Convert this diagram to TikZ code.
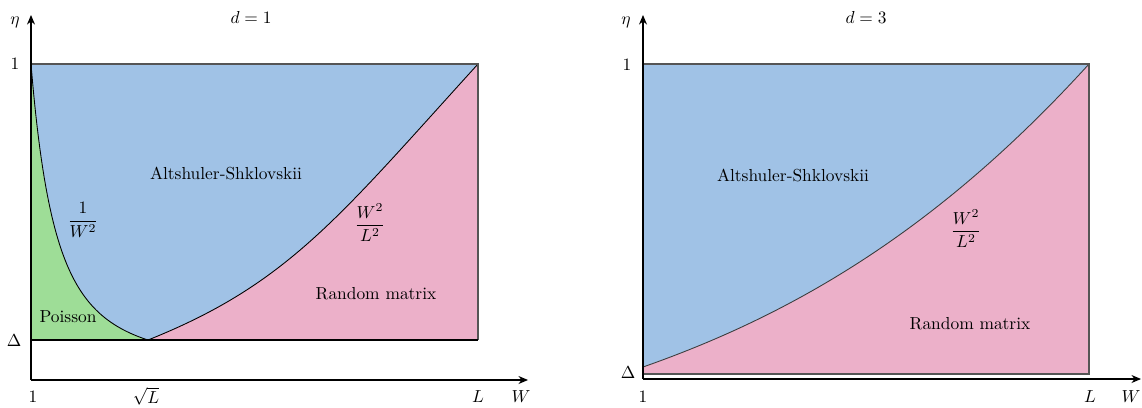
\documentclass[tikz,border=0pt]{standalone}
\usepackage{amsmath}
\usetikzlibrary{arrows.meta}
\definecolor{asblue}{RGB}{160,194,230}
\definecolor{poigreen}{RGB}{158,221,151}
\definecolor{rmpink}{RGB}{236,176,201}
\definecolor{edgegray}{RGB}{85,85,85}
\begin{document}
\begin{tikzpicture}[x=0.575pt,y=-0.575pt,
  axis/.style={line width=0.6pt,-{Stealth[length=5.5pt,width=4.6pt]}},
  framebox/.style={draw=edgegray,line width=0.9pt},
  bound/.style={line width=0.5pt},
  lab/.style={inner sep=1pt}]
\useasboundingbox (0,0) rectangle (1142,407);

% ---------------- left panel (d=1) ----------------
\coordinate (LO) at (31,380);
\coordinate (LYtip) at (31,15);
\coordinate (LXtip) at (528,380);
\coordinate (LTL) at (31,64);
\coordinate (LTR) at (478,64);
\coordinate (LBL) at (31,340);
\coordinate (LBR) at (478,340);
\coordinate (LS) at (148,340);

\fill[asblue] (LTL) rectangle (LBR);
\fill[rmpink] (LS) .. controls (288,284) and (338,218) .. (LTR) -- (LBR) -- cycle;
\fill[poigreen] (LTL) -- plot[domain=0:117,samples=80,variable=\u] ({31+\u},{340-(303.18*(50/(\u+50))^2-27.18)}) -- (LBL) -- cycle;

\draw[bound] (LS) .. controls (288,284) and (338,218) .. (LTR);
\draw[bound] plot[domain=0:117,samples=80,variable=\u] ({31+\u},{340-(303.18*(50/(\u+50))^2-27.18)});

\draw[framebox] (LTL) -- (LTR) -- (LBR);
\draw[line width=0.8pt] (LBL) -- (LBR);
\draw[axis] (LO) -- (LYtip);
\draw[axis] (LO) -- (LXtip);

\node[lab] (etaL) at (15,22) {$\eta$};
\node[lab] (oneYL) at (15,64) {$1$};
\node[lab] (DeltaL) at (14,341) {$\Delta$};
\node[lab] (oneXL) at (33,397) {$1$};
\node[lab] (sqrtL) at (146,396) {$\sqrt{L}$};
\node[lab] (LXL) at (478,397) {$L$};
\node[lab] (WXL) at (521,397) {$W$};
\node[lab] (dL) at (251,17) {$d=1$};
\node[lab] (ASL) at (226,173) {Altshuler-Shklovskii};
\node[lab] (invW) at (83,220) {$\dfrac{1}{W^2}$};
\node[lab] (fracL) at (370,223) {$\dfrac{W^2}{L^2}$};
\node[lab] (RML) at (376,294) {Random matrix};
\node[lab] (PoiL) at (68,317) {Poisson};

% ---------------- right panel (d=3) ----------------
\coordinate (RO) at (643,379);
\coordinate (RYtip) at (643,15);
\coordinate (RXtip) at (1141,379);
\coordinate (RTL) at (643,64);
\coordinate (RTR) at (1089,64);
\coordinate (RBL) at (643,374);
\coordinate (RBR) at (1089,374);
\coordinate (RS) at (643,367);

\fill[rmpink] (RTL) rectangle (RBR);
\fill[asblue] (RTL) -- (RTR) .. controls (938,230) and (794,314) .. (RS) -- cycle;
\draw[bound,draw=edgegray!70!black] (RS) .. controls (794,314) and (938,230) .. (RTR);

\draw[framebox] (RBL) -- (RBR) -- (RTR) -- (RTL);
\draw[axis] (RO) -- (RYtip);
\draw[axis] (RO) -- (RXtip);

\node[lab] (etaR) at (626,22) {$\eta$};
\node[lab] (oneYR) at (627,65) {$1$};
\node[lab] (DeltaR) at (628,373) {$\Delta$};
\node[lab] (oneXR) at (643,397) {$1$};
\node[lab] (LXR) at (1090,397) {$L$};
\node[lab] (WXR) at (1131,397) {$W$};
\node[lab] (dR) at (866,17) {$d=3$};
\node[lab] (ASR) at (793,175) {Altshuler-Shklovskii};
\node[lab] (fracR) at (966,229) {$\dfrac{W^2}{L^2}$};
\node[lab] (RMR) at (970,324) {Random matrix};
\end{tikzpicture}
\end{document}
